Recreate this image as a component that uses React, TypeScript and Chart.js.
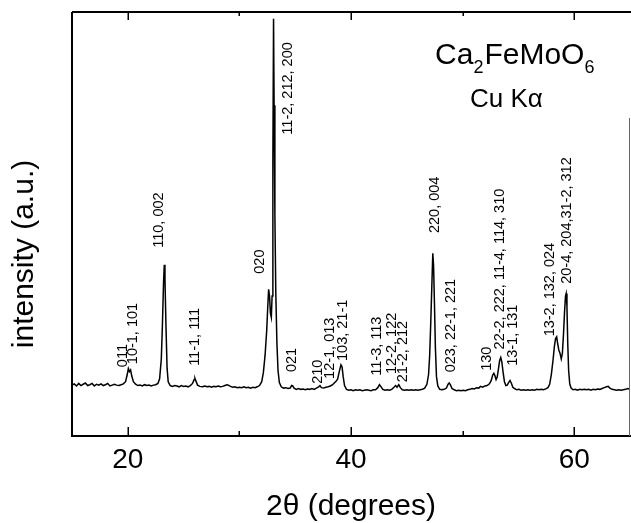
import React, { useEffect, useRef } from "react";
import { Chart, registerables } from "chart.js";
Chart.register(...registerables);

const FONT = "'Liberation Sans', Arial, Helvetica, sans-serif";

const twoTheta = [
  15.0, 15.2, 15.4, 15.6, 15.8, 16.0, 16.2, 16.4, 16.6, 16.8, 17.0, 17.2, 17.4, 17.6, 17.8, 18.0, 18.2, 18.4, 18.6, 18.8,
  19.0, 19.2, 19.4, 19.6, 19.8, 19.95, 20.05, 20.15, 20.25, 20.35, 20.5, 20.7, 20.9, 21.1, 21.3, 21.5, 21.7, 21.9, 22.1, 22.3,
  22.5, 22.7, 22.85, 23.0, 23.1, 23.2, 23.27, 23.33, 23.42, 23.52, 23.62, 23.8, 24.0, 24.2, 24.4, 24.6, 24.8, 25.0, 25.2, 25.4,
  25.6, 25.8, 25.95, 26.02, 26.1, 26.25, 26.45, 26.7, 26.9, 27.1, 27.3, 27.5, 27.7, 27.9, 28.1, 28.3, 28.5, 28.7, 28.9, 29.0,
  29.2, 29.4, 29.6, 29.8, 30.0, 30.2, 30.4, 30.6, 30.8, 31.0, 31.2, 31.4, 31.6, 31.8, 32.0, 32.15, 32.3, 32.45, 32.55, 32.62,
  32.7, 32.78, 32.86, 32.93, 33.0, 33.06, 33.11, 33.18, 33.26, 33.36, 33.46, 33.58, 33.75, 33.95, 34.15, 34.35, 34.55, 34.68, 34.78, 34.9,
  35.1, 35.3, 35.5, 35.7, 35.9, 36.1, 36.3, 36.5, 36.7, 36.9, 37.1, 37.22, 37.35, 37.55, 37.75, 37.95, 38.15, 38.35, 38.5, 38.66,
  38.8, 38.95, 39.1, 39.2, 39.3, 39.42, 39.6, 39.8, 40.0, 40.2, 40.4, 40.6, 40.8, 41.0, 41.2, 41.4, 41.6, 41.8, 42.0, 42.2,
  42.4, 42.55, 42.7, 42.85, 43.05, 43.25, 43.45, 43.65, 43.85, 44.0, 44.12, 44.28, 44.42, 44.6, 44.8, 45.0, 45.2, 45.4, 45.6, 45.8,
  46.0, 46.2, 46.4, 46.6, 46.8, 46.95, 47.05, 47.15, 47.25, 47.33, 47.4, 47.48, 47.56, 47.66, 47.78, 47.95, 48.15, 48.35, 48.55, 48.7,
  48.8, 48.9, 49.05, 49.25, 49.45, 49.65, 49.85, 50.05, 50.25, 50.45, 50.65, 50.85, 51.05, 51.25, 51.45, 51.6, 51.8, 52.0, 52.2, 52.4,
  52.55, 52.7, 52.8, 52.9, 53.0, 53.1, 53.2, 53.32, 53.42, 53.52, 53.62, 53.75, 53.88, 54.0, 54.12, 54.25, 54.38, 54.5, 54.65, 54.85,
  55.05, 55.25, 55.45, 55.65, 55.85, 56.05, 56.25, 56.45, 56.65, 56.85, 57.05, 57.25, 57.45, 57.65, 57.8, 57.95, 58.1, 58.22, 58.33, 58.43,
  58.52, 58.62, 58.72, 58.84, 58.94, 59.04, 59.13, 59.22, 59.28, 59.35, 59.42, 59.5, 59.6, 59.72, 59.9, 60.1, 60.3, 60.5, 60.7, 60.9,
  61.1, 61.3, 61.5, 61.7, 61.9, 62.1, 62.3, 62.5, 62.7, 62.9, 63.05, 63.2, 63.4, 63.6, 63.8, 64.0, 64.2, 64.4, 64.6, 64.8,
  65.0,
];

const intensity = [
  12.0, 12.3, 11.8, 12.4, 11.9, 12.2, 12.5, 11.9, 12.1, 12.4, 11.8, 12.2, 12.0, 12.3, 11.9, 12.1, 12.4, 11.8, 12.0, 12.2,
  12.0, 11.9, 12.1, 12.3, 12.8, 14.5, 15.9, 15.2, 15.6, 14.2, 12.8, 12.2, 11.9, 12.0, 11.8, 12.1, 11.9, 12.0, 11.8, 12.0,
  12.1, 12.4, 13.5, 18.0, 26.0, 36.0, 40.4, 37.0, 26.0, 16.0, 12.8, 11.9, 11.7, 11.9, 11.8, 11.6, 11.9, 11.7, 11.8, 11.6,
  11.9, 12.4, 13.3, 13.6, 13.0, 12.0, 11.7, 11.6, 11.8, 11.6, 11.7, 11.5, 11.7, 11.6, 11.8, 11.6, 11.7, 11.9, 12.1, 12.0,
  11.7, 11.5, 11.6, 11.4, 11.5, 11.4, 11.6, 11.4, 11.5, 11.3, 11.5, 11.4, 11.6, 11.9, 12.8, 15.0, 19.0, 25.0, 31.0, 34.6,
  33.0, 29.0, 28.0, 33.0, 65.0, 98.4, 78.0, 52.0, 34.0, 22.0, 15.5, 12.6, 11.6, 11.3, 11.4, 11.2, 11.3, 11.9, 11.8, 11.3,
  11.0, 11.2, 11.0, 11.1, 10.9, 11.1, 11.0, 11.2, 11.0, 11.3, 11.6, 11.9, 11.4, 11.3, 11.5, 11.6, 11.8, 12.1, 12.5, 12.9,
  13.4, 15.2, 16.8, 16.3, 14.0, 11.9, 11.0, 10.8, 10.9, 10.7, 10.9, 10.8, 10.9, 10.7, 10.8, 10.9, 10.8, 10.7, 10.9, 10.9,
  11.4, 12.1, 11.6, 11.0, 10.8, 10.9, 10.8, 11.0, 11.5, 11.9, 11.5, 12.1, 11.4, 10.9, 10.8, 10.9, 10.8, 10.9, 10.8, 10.9,
  10.8, 10.9, 11.0, 11.3, 12.2, 14.5, 19.0, 27.0, 36.0, 43.1, 40.0, 31.0, 21.0, 14.0, 11.8, 11.0, 10.9, 11.0, 11.3, 12.2,
  12.5, 12.1, 11.2, 10.9, 10.7, 10.8, 10.7, 10.8, 10.7, 10.9, 11.0, 11.2, 11.1, 11.4, 11.3, 11.7, 11.5, 11.8, 11.9, 12.3,
  13.0, 14.4, 14.8, 14.2, 13.3, 13.9, 15.6, 17.8, 18.5, 17.4, 15.2, 12.8, 11.9, 12.0, 12.6, 13.1, 12.4, 11.5, 11.2, 10.9,
  11.0, 10.8, 10.9, 10.8, 10.9, 10.8, 10.9, 10.8, 11.0, 10.9, 11.0, 10.9, 11.1, 11.4, 12.2, 14.5, 17.8, 21.0, 23.0, 23.4,
  21.8, 20.3, 19.6, 18.2, 19.5, 24.0, 29.0, 33.0, 33.6, 30.5, 22.0, 15.5, 12.3, 11.3, 10.9, 11.0, 10.8, 11.0, 10.9, 11.0,
  10.9, 11.0, 10.8, 11.0, 10.9, 11.1, 11.0, 11.2, 11.4, 11.6, 11.7, 11.3, 11.0, 10.9, 10.8, 10.9, 10.8, 10.9, 11.0, 11.2,
  11.0,
];

const xTicks = [20, 30, 40, 50, 60];
const xTickLabels = ["20", "", "40", "", "60"];

const peakLabels = [
  "011", "10-1, 101", "110, 002", "11-1, 111", "020", "11-2, 212, 200", "021", "210", "12-1, 013", "103, 21-1",
  "11-3, 113", "12-2, 122", "21-2, 212", "220, 004", "023, 22-1, 221", "130", "22-2, 222, 11-4, 114, 310", "13-1, 131",
  "13-2, 132, 024", "20-4, 204,31-2, 312",
];
const peakLabelX = [
  19.54, 20.45, 22.82, 26.02, 31.85, 34.38, 34.69, 37.07, 38.12, 39.31,
  42.3, 43.65, 44.69, 47.53, 48.92, 52.16, 53.35, 54.54, 57.83, 59.33,
];
const peakLabelY = [
  16.24, 16.94, 44.39, 16.54, 38.28, 71.07, 15.08, 12.3, 13.46, 17.7,
  14.22, 14.62, 12.69, 47.87, 15.01, 15.38, 20.42, 16.54, 23.5, 35.89,
];

const formulaParts = [
  { t: "Ca", sub: false },
  { t: "2", sub: true },
  { t: "FeMoO", sub: false },
  { t: "6", sub: true },
];
const formulaAt = { x: 47.53, y: 87.7 };
const radiation = "Cu K\u03b1";
const radiationAt = { x: 50.66, y: 77.7 };
const xTitle = "2\u03b8 (degrees)";
const yTitle = "intensity (a.u.)";

export default function App() {
  const ref = useRef<HTMLCanvasElement>(null);

  useEffect(() => {
    document.body.style.margin = "0";
    const canvas = ref.current;
    if (!canvas) return;

    const overlay = {
      id: "overlay",
      afterDraw(chart: any) {
        const { ctx, chartArea: a, scales } = chart;
        const xs = scales.x;
        const ys = scales.y;
        ctx.save();
        ctx.fillStyle = "#000";
        ctx.strokeStyle = "#000";

        // frame
        ctx.lineWidth = 2;
        ctx.beginPath();
        ctx.moveTo(a.left, a.top);
        ctx.lineTo(a.right + 1, a.top);
        ctx.moveTo(a.left, a.top);
        ctx.lineTo(a.left, a.bottom);
        ctx.lineTo(a.right + 1, a.bottom);
        ctx.stroke();
        ctx.lineWidth = 1;
        ctx.strokeStyle = "#666";
        ctx.beginPath();
        ctx.moveTo(a.right - 0.5, ys.getPixelForValue(75));
        ctx.lineTo(a.right - 0.5, a.bottom);
        ctx.stroke();

        // inward ticks
        ctx.strokeStyle = "#000";
        ctx.lineWidth = 1.5;
        xTicks.forEach((v, i) => {
          const px = Math.round(xs.getPixelForValue(v)) + 0.25;
          const major = xTickLabels[i] !== "";
          ctx.beginPath();
          ctx.moveTo(px, a.bottom);
          ctx.lineTo(px, a.bottom - (major ? 9 : 5));
          ctx.moveTo(px, a.top);
          ctx.lineTo(px, a.top + (major ? 8 : 4));
          ctx.stroke();
        });

        // peak labels
        ctx.font = `14.5px ${FONT}`;
        ctx.textAlign = "left";
        ctx.textBaseline = "middle";
        peakLabels.forEach((t, i) => {
          const px = xs.getPixelForValue(peakLabelX[i]);
          const py = ys.getPixelForValue(peakLabelY[i]);
          ctx.save();
          ctx.translate(px, py);
          ctx.rotate(-Math.PI / 2);
          ctx.fillText(t, 0, 0);
          ctx.restore();
        });

        // formula
        ctx.textBaseline = "alphabetic";
        let fx = xs.getPixelForValue(formulaAt.x);
        const fy = ys.getPixelForValue(formulaAt.y);
        formulaParts.forEach((p) => {
          ctx.font = p.sub ? `18px ${FONT}` : `30px ${FONT}`;
          ctx.fillText(p.t, fx, p.sub ? fy + 9 : fy);
          fx += ctx.measureText(p.t).width + (p.sub ? 1 : 0);
        });
        ctx.font = `26px ${FONT}`;
        ctx.fillText(radiation, xs.getPixelForValue(radiationAt.x), ys.getPixelForValue(radiationAt.y));

        // axis titles
        ctx.font = `30px ${FONT}`;
        ctx.textAlign = "center";
        ctx.fillText(xTitle, (a.left + a.right) / 2, 515);
        ctx.save();
        ctx.translate(33, 254);
        ctx.rotate(-Math.PI / 2);
        ctx.fillText(yTitle, 0, 0);
        ctx.restore();

        ctx.restore();
      },
    };

    const chart = new Chart(canvas, {
      type: "line",
      data: {
        datasets: [
          {
            data: twoTheta.map((x, i) => ({ x, y: intensity[i] })),
            borderColor: "#000",
            borderWidth: 1.5,
            pointRadius: 0,
            tension: 0,
            fill: false,
          },
        ],
      },
      options: {
        responsive: false,
        animation: false,
        devicePixelRatio: 1,
        layout: { padding: { left: 72, right: 1, top: 12, bottom: 39.4 } },
        plugins: { legend: { display: false }, tooltip: { enabled: false } },
        scales: {
          x: {
            type: "linear",
            min: 15,
            max: 65,
            afterBuildTicks: (axis: any) => {
              axis.ticks = xTicks.map((v) => ({ value: v }));
            },
            grid: { display: false, drawTicks: false },
            border: { display: false },
            ticks: {
              autoSkip: false,
              maxRotation: 0,
              padding: 7,
              color: "#000",
              font: { family: FONT, size: 28 },
              callback: (v: any) => {
                const i = xTicks.indexOf(Number(v));
                return i >= 0 ? xTickLabels[i] : "";
              },
            },
          },
          y: {
            type: "linear",
            min: 0,
            max: 100,
            display: false,
          },
        },
      },
      plugins: [overlay],
    });

    return () => chart.destroy();
  }, []);

  return (
    <div style={{ width: 631, height: 523 }}>
      <canvas ref={ref} width={631} height={523} />
    </div>
  );
}
